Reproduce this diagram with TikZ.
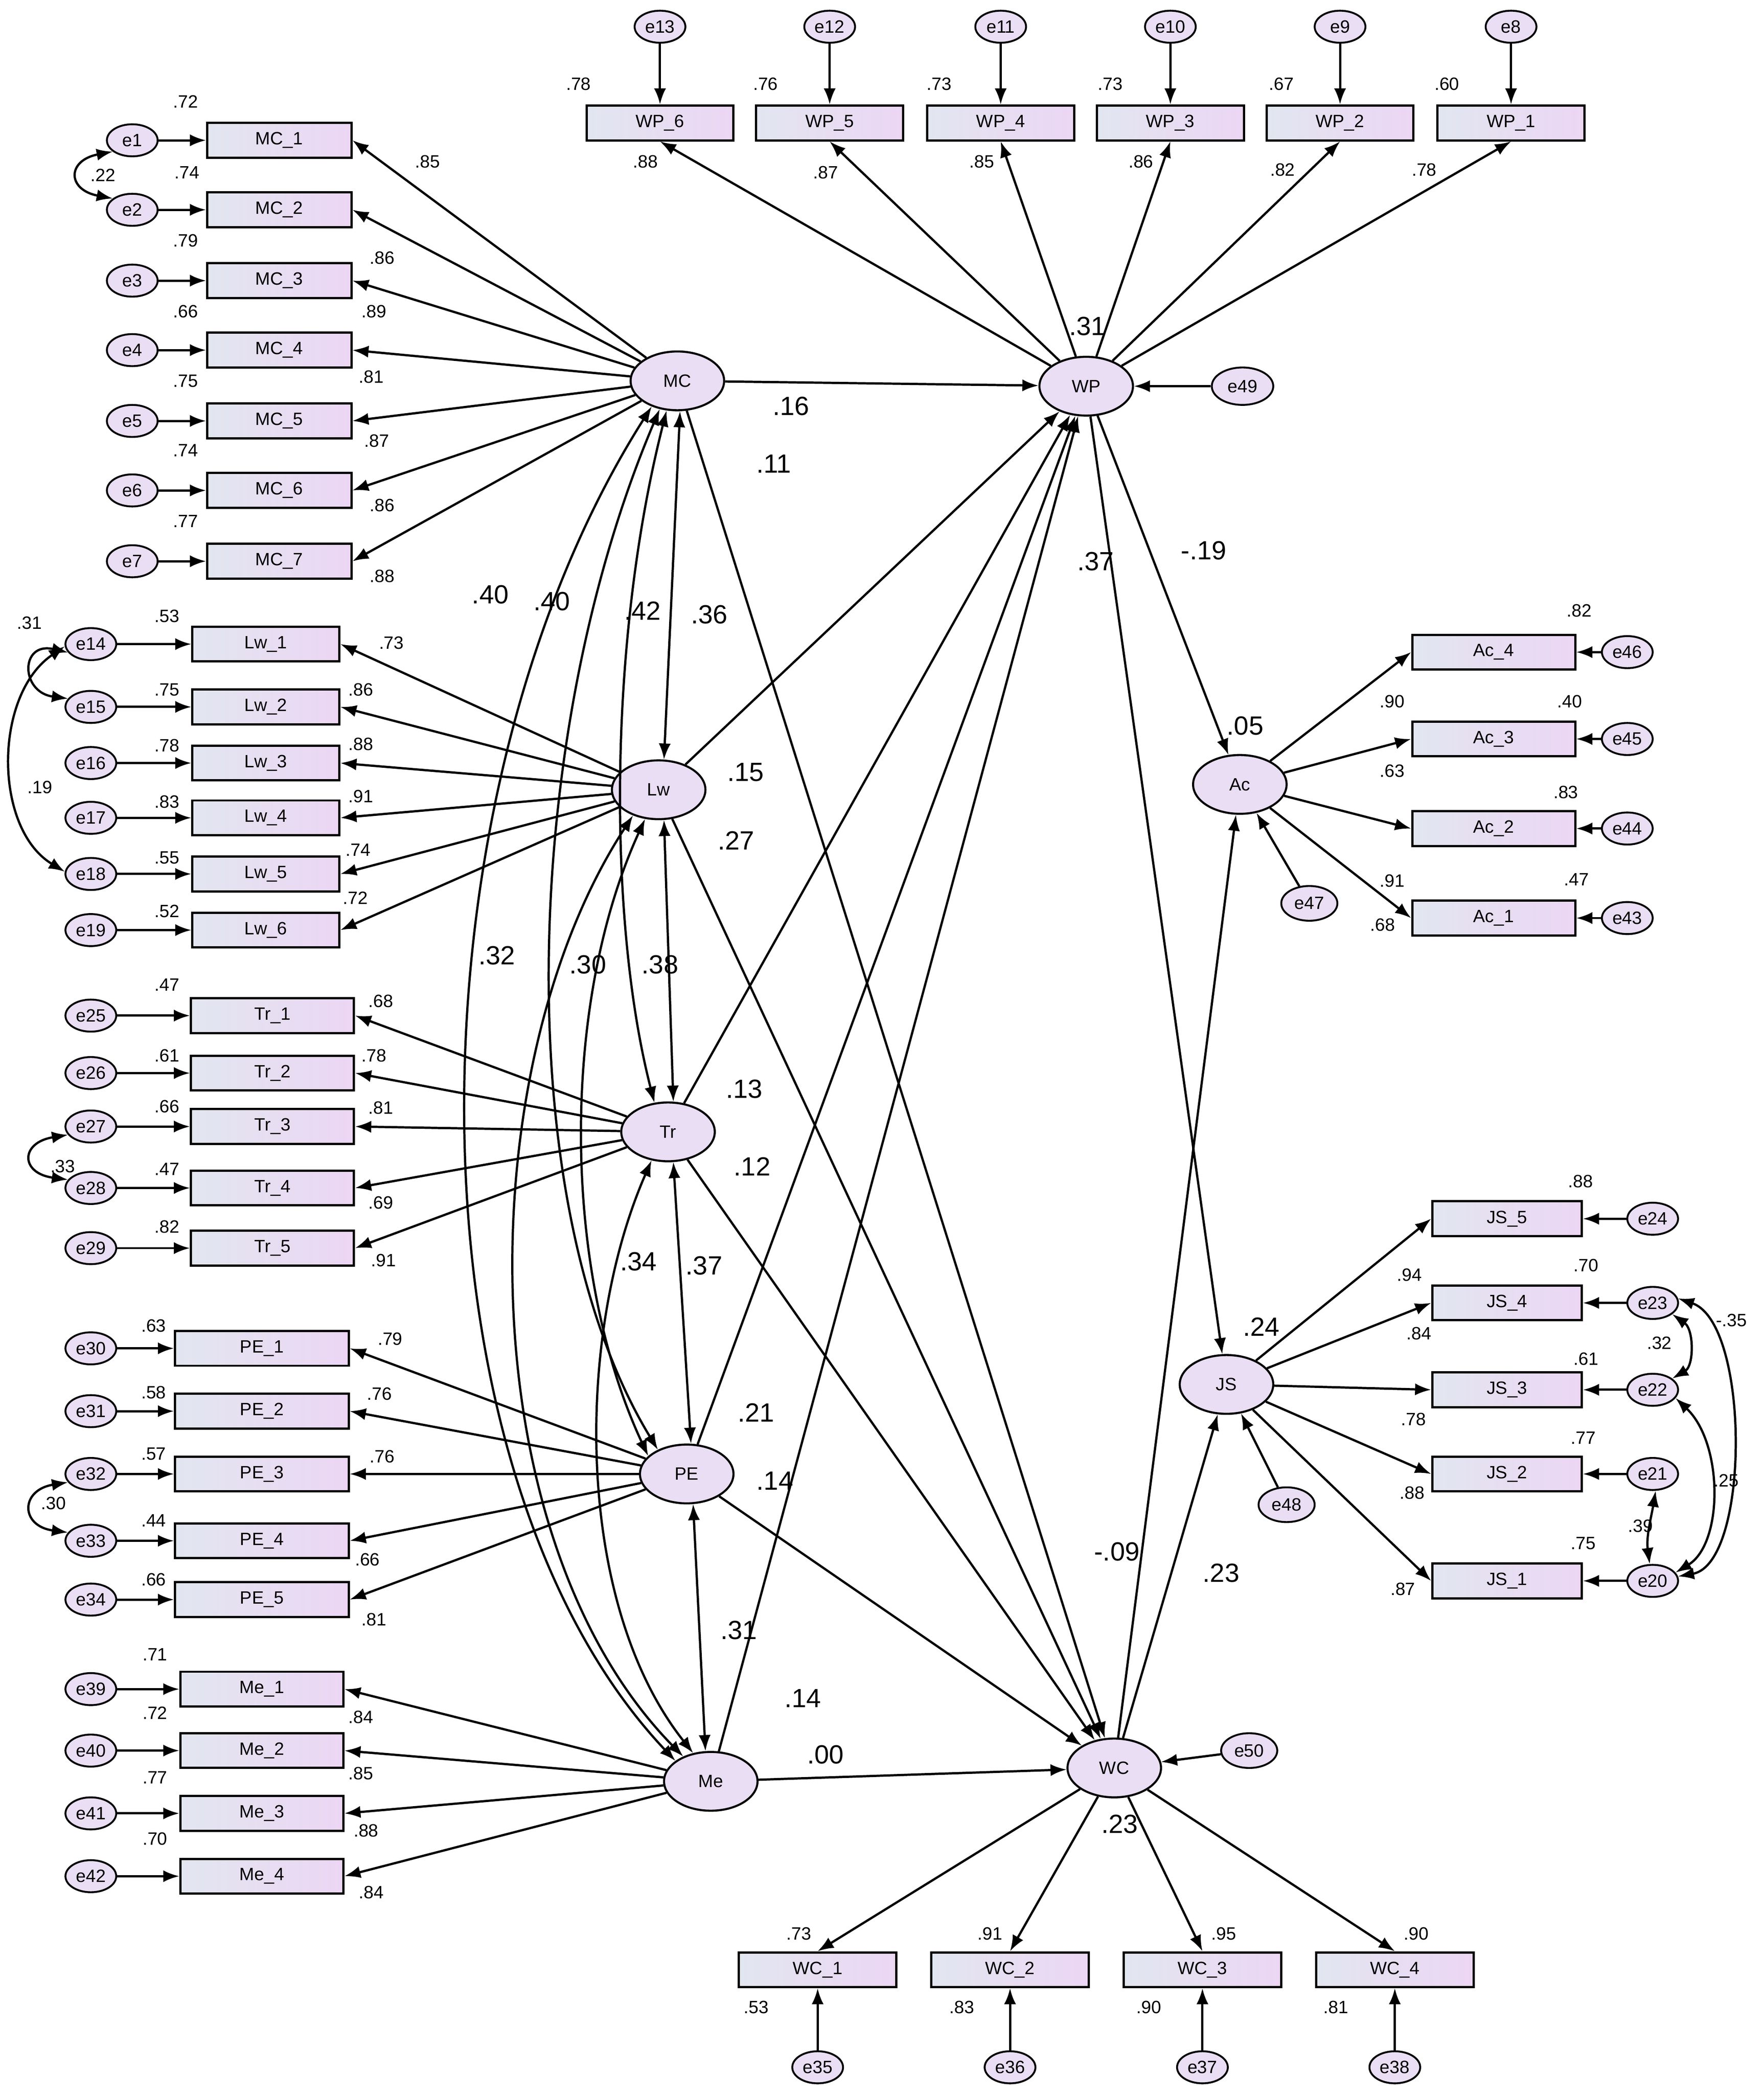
\documentclass[tikz,border=0pt]{standalone}
\usepackage{fontspec}
\setmainfont{Liberation Sans}
\usetikzlibrary{shapes.geometric,arrows.meta}
\definecolor{lavA}{RGB}{226,230,240}
\definecolor{lavB}{RGB}{236,214,244}
\definecolor{lav}{RGB}{234,222,244}
\newcommand\fsm{\fontsize{19}{22}\selectfont}
\newcommand\fbg{\fontsize{28}{32}\selectfont}
\begin{document}
\begin{tikzpicture}[x=0.05cm,y=-0.05cm,
 lat/.style={ellipse,draw,line width=2.2pt,fill=lav,minimum width=3.5cm,minimum height=2.2cm,inner sep=0pt,font=\fsm},
 obs/.style={rectangle,draw,line width=2.4pt,left color=lavA,right color=lavB,minimum height=1.3cm,inner sep=0pt,font=\fsm},
 err/.style={ellipse,draw,line width=2pt,fill=lav,minimum width=1.9cm,minimum height=1.2cm,inner sep=0pt,font=\fsm},
 res/.style={ellipse,draw,line width=2pt,fill=lav,minimum width=2.3cm,minimum height=1.4cm,inner sep=0pt,font=\fsm},
 lab/.style={font=\fsm},
 big/.style={font=\fbg},
 arr/.style={-{Latex[length=0.6cm,width=0.45cm]},line width=2.4pt},
 darr/.style={{Latex[length=0.6cm,width=0.45cm]}-{Latex[length=0.6cm,width=0.45cm]},line width=2.4pt}]
\useasboundingbox (0,0) rectangle (1320,1567);
% latent
\node[lat] (MC) at (507,285) {MC};
\node[lat] (WP) at (813,289) {WP};
\node[lat] (Lw) at (493,591) {Lw};
\node[lat] (Tr) at (500,847) {Tr};
\node[lat] (PE) at (514,1103) {PE};
\node[lat] (Me) at (532,1333) {Me};
\node[lat] (WC) at (834,1323) {WC};
\node[lat] (Ac) at (928,587) {Ac};
\node[lat] (JS) at (918,1036) {JS};
% residuals
\node[res] (e49) at (930,289) {e49};
\node[res,minimum width=2.1cm,minimum height=1.3cm] (e47) at (980,676) {e47};
\node[res,minimum width=2.1cm,minimum height=1.3cm] (e48) at (963,1126) {e48};
\node[res,minimum width=2.1cm,minimum height=1.3cm] (e50) at (935,1310) {e50};
\draw[arr] (e49)--(WP);
\draw[arr] (e47)--(Ac);
\draw[arr] (e48)--(JS);
\draw[arr] (e50)--(WC);
% MC
\foreach \i/\y in {1/105,2/157,3/210,4/262,5/315,6/367,7/420}{
 \node[obs,minimum width=5.4cm] (MC\i) at (209,\y) {MC\_\i};
 \node[err] (e\i) at (99,\y) {e\i};
 \draw[arr] (e\i)--(MC\i); \draw[arr] (MC)--(MC\i.east);}
% Lw
\foreach \i/\y/\e in {1/482/14,2/529/15,3/571/16,4/612/17,5/654/18,6/696/19}{
 \node[obs,minimum width=5.5cm] (Lw\i) at (199,\y) {Lw\_\i};
 \node[err] (e\e) at (68,\y) {e\e};
 \draw[arr] (e\e)--(Lw\i); \draw[arr] (Lw)--(Lw\i.east);}
% Tr
\foreach \i/\y/\e in {1/760/25,2/803/26,3/843/27,4/889/28,5/934/29}{
 \node[obs,minimum width=6.1cm] (Tr\i) at (204,\y) {Tr\_\i};
 \node[err] (e\e) at (68,\y) {e\e};
 \draw[arr] (e\e)--(Tr\i); \draw[arr] (Tr)--(Tr\i.east);}
% PE
\foreach \i/\y/\e in {1/1009/30,2/1056/31,3/1103/32,4/1153/33,5/1197/34}{
 \node[obs,minimum width=6.5cm] (PE\i) at (196,\y) {PE\_\i};
 \node[err] (e\e) at (68,\y) {e\e};
 \draw[arr] (e\e)--(PE\i); \draw[arr] (PE)--(PE\i.east);}
% Me
\foreach \i/\y/\e in {1/1264/39,2/1310/40,3/1357/41,4/1404/42}{
 \node[obs,minimum width=6.1cm] (Me\i) at (196,\y) {Me\_\i};
 \node[err] (e\e) at (68,\y) {e\e};
 \draw[arr] (e\e)--(Me\i); \draw[arr] (Me)--(Me\i.east);}
% WP
\foreach \i/\x/\e in {6/494/13,5/621/12,4/749/11,3/876/10,2/1003/9,1/1131/8}{
 \node[obs,minimum width=5.5cm] (WP\i) at (\x,92) {WP\_\i};
 \node[err] (e\e) at (\x,20) {e\e};
 \draw[arr] (e\e)--(WP\i); \draw[arr] (WP)--(WP\i.south);}
% Ac
\foreach \i/\y/\e in {4/488/46,3/553/45,2/620/44,1/687/43}{
 \node[obs,minimum width=6.1cm] (Ac\i) at (1118,\y) {Ac\_\i};
 \node[err] (e\e) at (1218,\y) {e\e};
 \draw[arr] (e\e)--(Ac\i); \draw[arr] (Ac)--(Ac\i.west);}
% JS
\foreach \i/\y/\e in {5/912/24,4/975/23,3/1040/22,2/1103/21,1/1183/20}{
 \node[obs,minimum width=5.6cm] (JS\i) at (1128,\y) {JS\_\i};
 \node[err] (e\e) at (1237,\y) {e\e};
 \draw[arr] (e\e)--(JS\i); \draw[arr] (JS)--(JS\i.west);}
% WC
\foreach \i/\x/\e in {1/612/35,2/756/36,3/900/37,4/1044/38}{
 \node[obs,minimum width=5.9cm] (WC\i) at (\x,1474) {WC\_\i};
 \node[err] (e\e) at (\x,1547) {e\e};
 \draw[arr] (e\e)--(WC\i); \draw[arr] (WC)--(WC\i.north);}
% structural
\foreach \a/\b in {MC/WP,MC/WC,Lw/WP,Lw/WC,Tr/WP,Tr/WC,PE/WP,PE/WC,Me/WP,Me/WC,WP/Ac,WP/JS,WC/Ac,WC/JS}
 \draw[arr] (\a)--(\b);
% correlations
\draw[darr] (MC.275) -- (Lw.80);
\draw[darr] (MC.250) .. controls (455,480) and (455,690) .. (Tr.115);
\draw[darr] (MC.238) .. controls (390,550) and (380,900) .. (PE.140);
\draw[darr] (MC.225) .. controls (300,600) and (300,1100) .. (Me.150);
\draw[darr] (Lw.-80) -- (Tr.80);
\draw[darr] (Lw.245) .. controls (420,750) and (420,950) .. (PE.155);
\draw[darr] (Lw.225) .. controls (350,800) and (350,1150) .. (Me.138);
\draw[darr] (Tr.-80) -- (PE.82);
\draw[darr] (Tr.240) .. controls (430,1000) and (430,1200) .. (Me.122);
\draw[darr] (PE.-78) -- (Me.100);
% error covariances
\draw[darr] (e1.210) .. controls (50,120) and (50,142) .. (e2.150);
\draw[darr] (e14.200) .. controls (15,480) and (15,518) .. (e15.160);
\draw[darr] (e14.185) .. controls (-5,520) and (-5,620) .. (e18.175);
\draw[darr] (e27.200) .. controls (15,855) and (15,878) .. (e28.160);
\draw[darr] (e32.200) .. controls (15,1115) and (15,1142) .. (e33.160);
\draw[darr] (e23.-30) .. controls (1268,995) and (1268,1022) .. (e22.30);
\draw[darr] (e23.10) .. controls (1310,990) and (1310,1170) .. (e20.10);
\draw[darr] (e22.-20) .. controls (1290,1080) and (1290,1155) .. (e20.20);
\draw[darr] (e21.-80) .. controls (1236,1135) and (1232,1150) .. (e20.100);
% small labels
\foreach \t/\x/\y in {.72/139/76,.74/140/129,.79/139/180,.66/139/233,.75/139/285,.74/139/337,.77/139/390,
 .85/320/121,.86/286/193,.89/280/233,.81/278/282,.87/282/330,.86/286/378,.88/286/431,.22/77/131,
 .78/433/63,.76/573/63,.73/703/63,.73/831/63,.67/959/63,.60/1083/63,
 .88/483/121,.87/618/129,.85/735/121,.86/854/121,.82/960/127,.78/1066/127,
 .53/125/461,.75/125/516,.78/125/558,.83/125/600,.55/125/642,.52/125/682,
 .73/293/481,.86/270/516,.88/270/557,.91/270/596,.74/268/636,.72/266/672,.31/22/466,.19/30/589,
 .47/125/737,.61/125/790,.66/125/828,.47/125/875,.82/125/918,
 .68/285/749,.78/280/790,.81/285/829,.69/285/900,.91/287/943,.33/47/873,
 .63/115/992,.58/115/1042,.57/115/1088,.44/115/1138,.66/115/1182,
 .79/292/1002,.76/284/1043,.76/286/1090,.66/275/1167,.81/280/1212,.30/40/1125,
 .71/116/1238,.72/116/1282,.77/116/1330,.70/116/1376,
 .84/270/1285,.85/270/1327,.88/274/1370,.84/278/1416,
 .82/1182/457,.40/1175/525,.83/1172/593,.47/1180/658,
 .90/1042/525,.63/1042/577,.91/1042/659,.68/1035/692,
 .88/1183/884,.70/1187/947,.61/1187/1017,.77/1185/1076,.75/1185/1155,
 .94/1055/954,.84/1062/998,.78/1058/1062,.88/1057/1117,.87/1050/1189,
 .32/1242/1005,-.35/1296/988,.25/1292/1108,.39/1228/1142,
 .73/598/1447,.91/741/1447,.95/916/1447,.90/1060/1447,
 .53/566/1502,.83/720/1502,.90/860/1502,.81/1000/1502}
 \node[lab] at (\x,\y) {\t};
% big labels
\foreach \t/\x/\y in {.16/592/304,.11/579/347,.31/814/244,.37/820/420,-.19/901/412,.05/932/543,
 .15/558/578,.27/551/629,.13/557/815,.12/563/873,.21/566/1057,.14/580/1108,.14/601/1271,.00/618/1313,
 -.09/836/1161,.23/914/1177,.23/838/1365,.24/944/993,
 .40/367/445,.40/413/450,.42/481/457,.36/531/460,.32/372/715,.30/440/722,.38/494/722,.34/478/944,.37/527/947,.31/553/1220}
 \node[big] at (\x,\y) {\t};
\end{tikzpicture}
\end{document}
